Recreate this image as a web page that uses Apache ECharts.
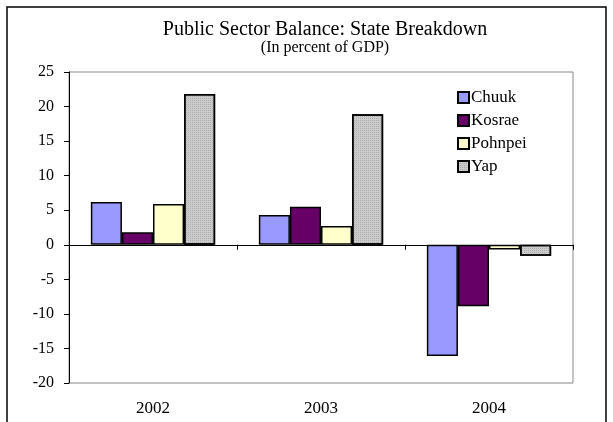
<!DOCTYPE html>
<html>
<head>
<meta charset="utf-8">
<script src="https://cdn.jsdelivr.net/npm/echarts@6/dist/echarts.min.js"></script>
<style>
  html, body { margin: 0; padding: 0; background: #fff; }
  #main { width: 613px; height: 422px; }
</style>
</head>
<body>
<div id="main"></div>
<script>
var years = ['2002', '2003', '2004'];
var chuuk = [6.2, 4.3, -16.1];
var kosrae = [1.8, 5.5, -8.9];
var pohnpei = [5.9, 2.7, -0.7];
var yap = [21.8, 18.9, -1.6];

var myChart = echarts.init(document.getElementById('main'));
var serif = 'Liberation Serif';

function bar(name, data, color, decal) {
  return {
    name: name,
    type: 'bar',
    xAxisIndex: 0,
    data: data,
    barGap: '0%',
    barCategoryGap: '26%',
    itemStyle: {
      color: color,
      borderColor: '#000',
      borderWidth: 1.5,
      decal: decal
    }
  };
}

var option = {
  animation: false,
  aria: { enabled: false },
  graphic: [{
    type: 'rect',
    shape: { x: 7, y: 7, width: 599, height: 430 },
    style: { fill: 'none', stroke: '#000', lineWidth: 1.5 },
    silent: true
  }],
  title: [{
    text: 'Public Sector Balance: State Breakdown',
    left: 320,
    textAlign: 'center',
    top: 15,
    textStyle: { fontFamily: serif, fontSize: 20, fontWeight: 'normal', color: '#000' }
  }, {
    text: '(In percent of GDP)',
    left: 320,
    textAlign: 'center',
    top: 35,
    textStyle: { fontFamily: serif, fontSize: 16, fontWeight: 'normal', color: '#000' }
  }],
  legend: {
    orient: 'vertical',
    left: 452,
    top: 84,
    icon: 'rect',
    itemWidth: 11,
    itemHeight: 11,
    itemGap: 6,
    textStyle: { fontFamily: serif, fontSize: 17, color: '#000', padding: [0, 0, 0, -3] },
    data: ['Chuuk', 'Kosrae', 'Pohnpei', 'Yap']
  },
  grid: {
    left: 69,
    right: 40,
    top: 72,
    bottom: 39,
    show: true,
    borderColor: '#888',
    borderWidth: 1
  },
  xAxis: [{
    type: 'category',
    data: years,
    position: 'bottom',
    axisLine: { onZero: true, lineStyle: { color: '#000', width: 1 } },
    axisTick: { show: true, length: 5, lineStyle: { color: '#000' } },
    axisLabel: { show: false }
  }, {
    type: 'category',
    data: years,
    position: 'bottom',
    axisLine: { show: false, onZero: false },
    axisTick: { show: false },
    axisLabel: { margin: 17, fontFamily: serif, fontSize: 17, color: '#000' }
  }],
  yAxis: {
    type: 'value',
    min: -20,
    max: 25,
    interval: 5,
    splitLine: { show: false },
    axisLine: { show: true, onZero: false, lineStyle: { color: '#000', width: 1 } },
    axisTick: { show: true, length: 5, lineStyle: { color: '#000' } },
    axisLabel: { margin: 15, fontFamily: serif, fontSize: 16, color: '#000' }
  },
  series: [
    bar('Chuuk', chuuk, '#9999FF'),
    bar('Kosrae', kosrae, '#660066'),
    bar('Pohnpei', pohnpei, '#FFFFCC'),
    bar('Yap', yap, '#CCCCCC', {
      symbol: 'rect',
      symbolSize: 1,
      dashArrayX: [1, 1],
      dashArrayY: [1, 1],
      rotation: 0,
      color: 'rgba(150,150,150,0.6)'
    })
  ]
};

myChart.setOption(option);
</script>
</body>
</html>
